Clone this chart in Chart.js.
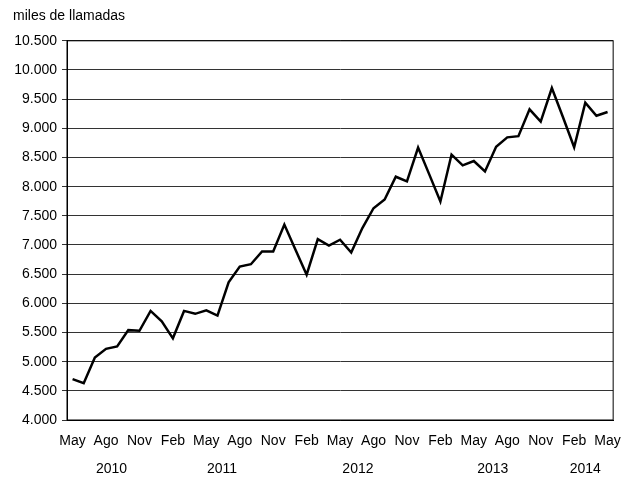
<!DOCTYPE html>
<html><head><meta charset="utf-8">
<script src="https://cdn.jsdelivr.net/npm/chart.js@4/dist/chart.umd.min.js"></script>
<style>html,body{margin:0;padding:0;background:#fff}#wrap{width:634px;height:478px}</style>
</head><body><div id="wrap"><canvas id="c"></canvas></div>
<script>
const months = ['May','Jun','Jul','Ago','Sep','Oct','Nov','Dic','Ene','Feb','Mar','Abr',
  'May','Jun','Jul','Ago','Sep','Oct','Nov','Dic','Ene','Feb','Mar','Abr',
  'May','Jun','Jul','Ago','Sep','Oct','Nov','Dic','Ene','Feb','Mar','Abr',
  'May','Jun','Jul','Ago','Sep','Oct','Nov','Dic','Ene','Feb','Mar','Abr','May'];
const calls = [4700,4630,5070,5220,5260,5540,5530,5870,5690,5400,5870,5820,
  5880,5790,6360,6630,6670,6890,6890,7350,6920,6490,7100,6990,
  7090,6870,7290,7630,7780,8170,8090,8670,8210,7745,8550,8365,
  8440,8260,8685,8845,8865,9325,9115,9690,9190,8675,9440,9215,9280];
const yearLabels = ['2010','2011','2012','2013','2014'];
const yearPositions = [3.5,13.4,25.6,37.7,46.0];
const yTitle = 'miles de llamadas';
const yMin = 4000, yMax = 10500, yStep = 500;

const FONT = "'Liberation Sans', Arial, sans-serif";
Chart.defaults.font.family = FONT;
Chart.defaults.color = '#000';

const frame = {
  id: 'frame',
  beforeDatasetsDraw(chart) {
    const a = chart.chartArea, ctx = chart.ctx;
    ctx.save();
    ctx.strokeStyle = '#000';
    ctx.lineWidth = 1;
    ctx.strokeRect(a.left, a.top, a.right - a.left, a.bottom - a.top);
    ctx.restore();
  }
};

new Chart(document.getElementById('c'), {
  type: 'line',
  data: {
    labels: months,
    datasets: [{
      data: calls,
      borderColor: '#000',
      borderWidth: 2.5,
      pointRadius: 0,
      tension: 0,
      fill: false
    }]
  },
  options: {
    responsive: true,
    maintainAspectRatio: false,
    animation: false,
    layout: { padding: { left: 13, right: 19, top: 0, bottom: 0 } },
    plugins: {
      legend: { display: false },
      tooltip: { enabled: false },
      title: {
        display: true, text: yTitle, align: 'start', color: '#000',
        font: { size: 14, weight: 'normal' },
        padding: { top: 8, bottom: 16 }
      }
    },
    scales: {
      x: {
        type: 'category',
        offset: true,
        afterFit: (axis) => { axis.height = 29; },
        grid: { display: false, drawTicks: false },
        border: { display: true, color: '#000', width: 1 },
        ticks: {
          autoSkip: false, maxRotation: 0, minRotation: 0, padding: 13,
          font: { size: 14 }, color: '#000',
          callback: function (v, i) { return i % 3 === 0 ? this.getLabelForValue(v) : null; }
        }
      },
      x2: {
        type: 'linear', position: 'bottom',
        min: -0.5, max: 48.5,
        afterFit: (axis) => { axis.height = 29; },
        grid: { display: false, drawTicks: false },
        border: { display: false },
        afterBuildTicks: (axis) => { axis.ticks = yearPositions.map(v => ({ value: v })); },
        ticks: {
          autoSkip: false, maxRotation: 0, minRotation: 0, padding: 12,
          font: { size: 14 }, color: '#000',
          callback: (v, i) => yearLabels[i]
        }
      },
      y: {
        min: yMin, max: yMax,
        afterFit: (axis) => { axis.width = 54; },
        grid: { color: '#333', lineWidth: 1, tickLength: 5, drawTicks: true },
        border: { display: true, color: '#000', width: 1 },
        ticks: {
          stepSize: yStep, padding: 5, font: { size: 14 }, color: '#000',
          callback: (v) => String(v).replace(/\B(?=(\d{3})+(?!\d))/g, '.')
        }
      }
    }
  },
  plugins: [frame]
});
</script>
</body></html>
